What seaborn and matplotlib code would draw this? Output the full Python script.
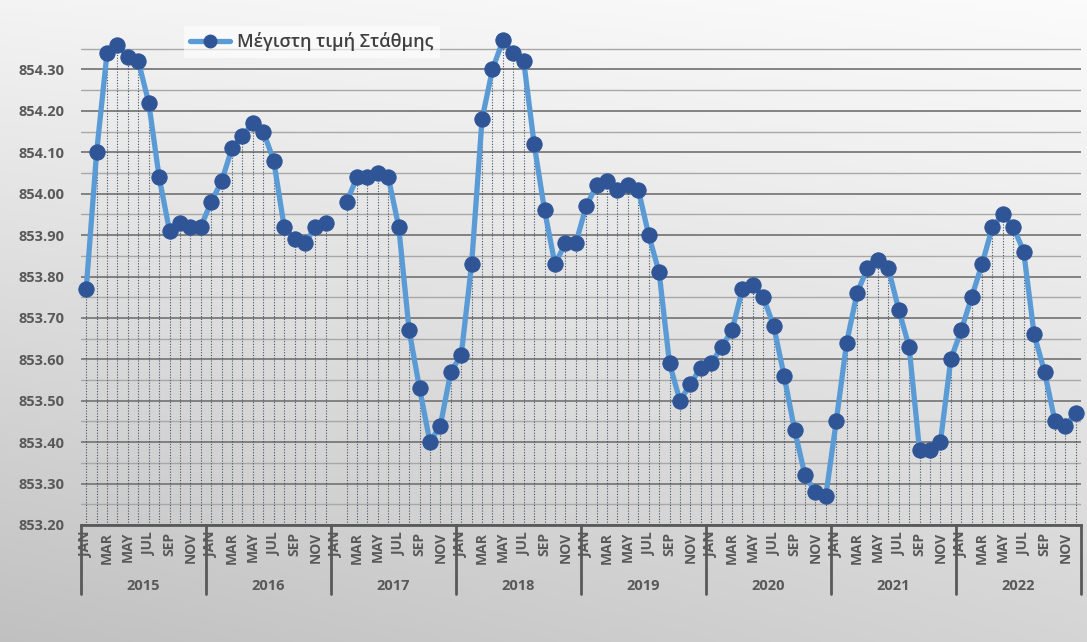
import numpy as np
import pandas as pd
import matplotlib
matplotlib.use("Agg")
import matplotlib.pyplot as plt
import matplotlib.transforms as mtransforms
from matplotlib.lines import Line2D
import seaborn as sns

years = ["2015", "2016", "2017", "2018", "2019", "2020", "2021", "2022"]
months = ["JAN", "FEB", "MAR", "APR", "MAY", "JUN", "JUL", "AUG", "SEP", "OCT", "NOV", "DEC"]
series_name = "Μέγιστη τιμή Στάθμης"

v2015 = [853.77, 854.10, 854.34, 854.36, 854.33, 854.32, 854.22, 854.04, 853.91, 853.93, 853.92, 853.92]
v2016 = [853.98, 854.03, 854.11, 854.14, 854.17, 854.15, 854.08, 853.92, 853.89, 853.88, 853.92, 853.93]
v2017 = [np.nan, 853.98, 854.04, 854.04, 854.05, 854.04, 853.92, 853.67, 853.53, 853.40, 853.44, 853.57]
v2018 = [853.61, 853.83, 854.18, 854.30, 854.37, 854.34, 854.32, 854.12, 853.96, 853.83, 853.88, 853.88]
v2019 = [853.97, 854.02, 854.03, 854.01, 854.02, 854.01, 853.90, 853.81, 853.59, 853.50, 853.54, 853.58]
v2020 = [853.59, 853.63, 853.67, 853.77, 853.78, 853.75, 853.68, 853.56, 853.43, 853.32, 853.28, 853.27]
v2021 = [853.45, 853.64, 853.76, 853.82, 853.84, 853.82, 853.72, 853.63, 853.38, 853.38, 853.40, 853.60]
v2022 = [853.67, 853.75, 853.83, 853.92, 853.95, 853.92, 853.86, 853.66, 853.57, 853.45, 853.44, 853.47]

values = v2015 + v2016 + v2017 + v2018 + v2019 + v2020 + v2021 + v2022
n = len(values)
idx = np.arange(n)
vals = np.array(values, dtype=float)
# segments broken at missing values
seg = np.cumsum(np.isnan(vals))
df = pd.DataFrame({"idx": idx, "val": vals, "seg": seg}).dropna()

ymin, ymax = 853.20, 854.40
major = np.round(np.arange(853.20, 854.301, 0.10), 2)
minor = np.round(np.arange(853.25, 854.351, 0.10), 2)

sns.set_theme(style="white")
plt.rcParams["font.family"] = ["Open Sans", "DejaVu Sans"]

W, H = 1087, 642
fig = plt.figure(figsize=(W / 100, H / 100), dpi=100)

# background gradient
bg = fig.add_axes([0, 0, 1, 1], zorder=-10)
yy, xx = np.mgrid[0:1:200j, 0:1:300j]
shade = 0.985 - 0.15 * yy - 0.05 * (1 - xx) * yy - 0.03 * (1 - xx)
img = np.dstack([shade, shade, shade])
bg.imshow(img, aspect="auto", extent=[0, 1, 0, 1], origin="upper")
bg.set_axis_off()

left_px, right_px = 81, 1081
top_px, bottom_px = 28, 525
ax = fig.add_axes([left_px / W, 1 - bottom_px / H, (right_px - left_px) / W, (bottom_px - top_px) / H])
ax.patch.set_alpha(0)

# drop lines
ok = ~np.isnan(vals)
ax.vlines(idx[ok], ymin, vals[ok], colors="#44546a", linestyles=(0, (1, 1.5)), linewidth=0.8, zorder=1)

sns.lineplot(data=df, x="idx", y="val", units="seg", estimator=None, ax=ax,
             color="#5b9bd5", linewidth=3.8, marker="o", markersize=11,
             markerfacecolor="#2f5597", markeredgecolor="#2f5597", legend=False, zorder=3)
for l in ax.lines:
    l.set_clip_on(False)

ax.set_xlim(-0.5, n - 0.5)
ax.set_ylim(ymin, ymax)
ax.set_yticks(major)
ax.set_yticks(minor, minor=True)
ax.set_yticklabels([f"{v:.2f}" for v in major], fontsize=10.5, fontweight="bold", color="#595959")
ax.grid(axis="y", which="major", color="#7a7a7a", linewidth=1.3, zorder=0)
ax.grid(axis="y", which="minor", color="#a8a8a8", linewidth=1.0, zorder=0)
ax.set_axisbelow(True)
ax.tick_params(axis="y", which="both", length=0, pad=12)

month_labels = [m if i % 2 == 0 else "" for _ in years for i, m in enumerate(months)]
ax.set_xticks(idx)
ax.set_xticklabels(month_labels, rotation=90, fontsize=10, fontweight="bold", color="#595959")
ax.tick_params(axis="x", length=0, pad=5)
ax.set_xlabel("")
ax.set_ylabel("")

for s in ["top", "right", "left"]:
    ax.spines[s].set_visible(False)
ax.spines["bottom"].set_color("#595959")
ax.spines["bottom"].set_linewidth(2)

trans = mtransforms.blended_transform_factory(ax.transData, ax.transAxes)
sep_depth = (594 - 525) / (bottom_px - top_px)
for k in range(len(years) + 1):
    xb = k * 12 - 0.5
    ax.plot([xb, xb], [0, -sep_depth], transform=trans, color="#595959", linewidth=2, clip_on=False)
year_y = -(586 - 525) / (bottom_px - top_px)
for k, yname in enumerate(years):
    ax.text(k * 12 + 5.5, year_y, yname, transform=trans, ha="center", va="center",
            fontsize=10.5, fontweight="bold", color="#595959")

handle = Line2D([], [], color="#5b9bd5", linewidth=3.8, marker="o", markersize=9,
                markerfacecolor="#2f5597", markeredgecolor="#2f5597")
leg = fig.legend([handle], [series_name], loc="upper left", bbox_to_anchor=(175 / W, 1 - 17 / H),
                 fontsize=13, frameon=True, handlelength=2.2, borderpad=0.35, handletextpad=0.4,
                 prop={"weight": "semibold", "size": 13})
leg.get_frame().set_facecolor("white")
leg.get_frame().set_alpha(0.6)
leg.get_frame().set_edgecolor("none")
leg.get_frame().set_boxstyle("square", pad=0)
for t in leg.get_texts():
    t.set_color("#404040")

fig.savefig("out.png", dpi=100)
